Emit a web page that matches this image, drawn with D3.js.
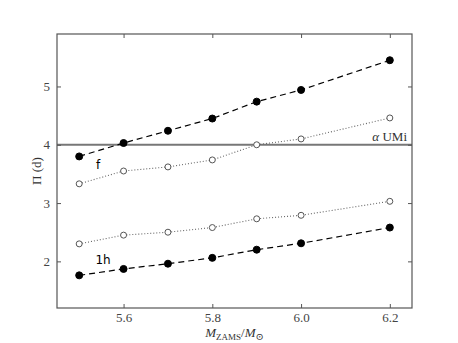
<!DOCTYPE html>
<html><head><meta charset="utf-8">
<script src="https://cdn.jsdelivr.net/npm/d3@7"></script>
<style>body{margin:0;background:#fff}</style>
</head><body>
<script>
const masses = [5.5, 5.6, 5.7, 5.8, 5.9, 6.0, 6.2];
const fFilled = [3.80, 4.03, 4.24, 4.45, 4.74, 4.94, 5.45];
const fOpen = [3.33, 3.55, 3.62, 3.74, 4.00, 4.10, 4.46];
const h1Open = [2.30, 2.45, 2.50, 2.58, 2.73, 2.79, 3.03];
const h1Filled = [1.76, 1.87, 1.96, 2.06, 2.20, 2.31, 2.58];
const xTicks = [5.6, 5.8, 6.0, 6.2];
const yTicks = [2, 3, 4, 5];
const alphaUMi = 4.0;

const W = 458, H = 343;
const m = {l: 57, r: 46, t: 34, b: 35};
const svg = d3.select("body").append("svg").attr("width", W).attr("height", H);
const x = d3.scaleLinear().domain([5.45, 6.25]).range([m.l, W - m.r]);
const y = d3.scaleLinear().domain([1.2, 5.9]).range([H - m.b, m.t]);
const serif = "'Liberation Serif', 'DejaVu Serif', serif";
const axisCol = "#555";

// reference line
svg.append("line").attr("x1", x(5.45)).attr("x2", x(6.25))
  .attr("y1", y(alphaUMi)).attr("y2", y(alphaUMi))
  .attr("stroke", "#777").attr("stroke-width", 1.8);
svg.append("text").attr("x", x(6.25) - 5).attr("y", y(alphaUMi) - 4)
  .attr("text-anchor", "end").attr("font-family", serif).attr("font-size", 13).attr("fill", "#333")
  .html('<tspan font-style="italic">α</tspan> UMi');

const line = d3.line().x((d, i) => x(masses[i])).y(d => y(d));
function series(vals, dashed, filled) {
  svg.append("path").datum(vals).attr("d", line).attr("fill", "none")
    .attr("stroke", dashed ? "#000" : "#666").attr("stroke-width", dashed ? 1.2 : 1.1)
    .attr("stroke-dasharray", dashed ? "6,4" : "1,2");
  svg.selectAll(null).data(vals).enter().append("circle")
    .attr("cx", (d, i) => x(masses[i])).attr("cy", d => y(d))
    .attr("r", filled ? 3.5 : 3)
    .attr("fill", filled ? "#000" : "#fff")
    .attr("stroke", filled ? "#000" : "#555").attr("stroke-width", 1);
}
series(fOpen, false, false);
series(h1Open, false, false);
series(fFilled, true, true);
series(h1Filled, true, true);

// frame
svg.append("rect").attr("x", m.l).attr("y", m.t).attr("width", W - m.r - m.l).attr("height", H - m.b - m.t)
  .attr("fill", "none").attr("stroke", axisCol).attr("stroke-width", 1.2);

// axes with inward ticks
const styleAxis = g => { g.select(".domain").remove(); g.selectAll(".tick line").attr("stroke", axisCol); };
svg.append("g").attr("transform", `translate(0,${H - m.b})`)
  .call(d3.axisBottom(x).tickValues(xTicks).tickFormat(d3.format(".1f")).tickSizeInner(-4).tickPadding(5))
  .call(styleAxis).selectAll("text").attr("font-family", serif).attr("font-size", 13).attr("fill", "#444");
svg.append("g").attr("transform", `translate(0,${m.t})`)
  .call(d3.axisTop(x).tickValues(xTicks).tickFormat("").tickSizeInner(-4))
  .call(styleAxis);
svg.append("g").attr("transform", `translate(${m.l},0)`)
  .call(d3.axisLeft(y).tickValues(yTicks).tickFormat(d3.format("d")).tickSizeInner(-4).tickPadding(7))
  .call(styleAxis).selectAll("text").attr("font-family", serif).attr("font-size", 13).attr("fill", "#444");
svg.append("g").attr("transform", `translate(${W - m.r},0)`)
  .call(d3.axisRight(y).tickValues(yTicks).tickFormat("").tickSizeInner(-4))
  .call(styleAxis);

// series labels
svg.append("text").attr("x", 98).attr("y", 169).attr("text-anchor", "middle")
  .attr("font-family", "'DejaVu Sans', sans-serif").attr("font-size", 12).text("f");
svg.append("text").attr("x", 103).attr("y", 264).attr("text-anchor", "middle")
  .attr("font-family", "'DejaVu Sans', sans-serif").attr("font-size", 12).text("1h");

// axis titles
svg.append("text").attr("transform", `translate(41,${(m.t + H - m.b) / 2}) rotate(-90)`)
  .attr("text-anchor", "middle").attr("font-family", serif).attr("font-size", 13).attr("fill", "#333")
  .text("Π (d)");
svg.append("text").attr("x", (m.l + W - m.r) / 2).attr("y", 337).attr("text-anchor", "middle")
  .attr("font-family", serif).attr("font-size", 13).attr("fill", "#333")
  .html('<tspan font-style="italic">M</tspan><tspan font-size="9" dy="3">ZAMS</tspan><tspan dy="-3">/</tspan><tspan font-style="italic">M</tspan><tspan font-size="10" dy="3">⊙</tspan>');
</script>
</body></html>
